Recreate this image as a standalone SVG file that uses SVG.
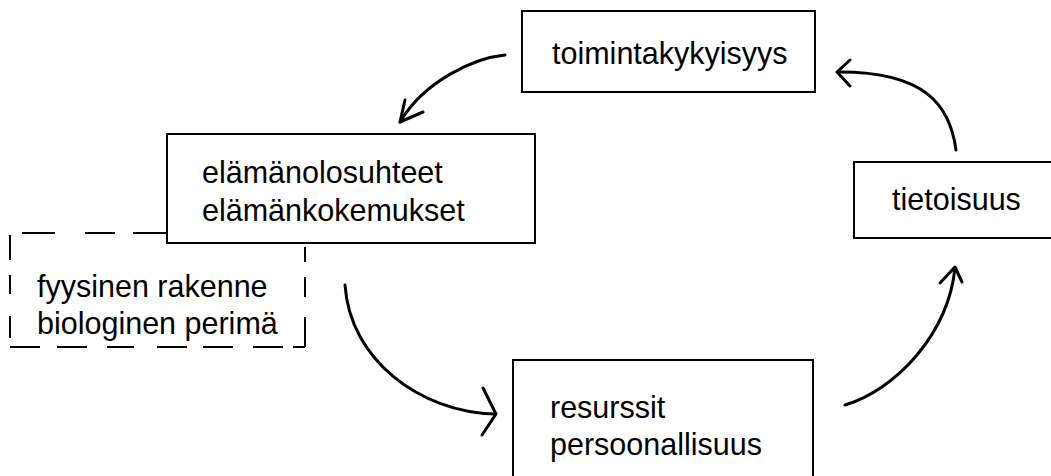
<svg xmlns="http://www.w3.org/2000/svg" width="1051" height="476" viewBox="0 0 1051 476">
<style>
.box{fill:none;stroke:#000;stroke-width:2}
.dash{fill:none;stroke:#000;stroke-width:2}
.lbl{font-family:"Liberation Sans",Arial,sans-serif;font-size:30.5px;fill:#000}
.arr{fill:none;stroke:#000;stroke-width:3;stroke-linecap:round;stroke-linejoin:round}
</style>
<rect width="1051" height="476" fill="#fff"/>
<g id="toimintakykyisyys">
<rect class="box" x="522" y="11" width="293" height="81"/>
<text class="lbl" x="552" y="64">toimintakykyisyys</text>
</g>
<g id="elamanolosuhteet">
<rect class="box" x="167" y="134" width="368" height="109"/>
<text class="lbl" x="202" y="183">elämänolosuhteet</text>
<text class="lbl" x="202" y="221">elämänkokemukset</text>
</g>
<g id="fyysinen">
<path class="dash" d="M22 233 H55 M85 233 H115 M133 233 H167"/>
<path class="dash" d="M10 235 V260 M10 275 V294 M10 316 V338"/>
<path class="dash" d="M10 347 H40 M57 347 H87 M107 347 H134 M157 347 H187 M203 347 H233 M253 347 H283 M293 347 H305"/>
<path class="dash" d="M305 247 V262 M305 277 V297 M305 317 V347"/>
<text class="lbl" x="37" y="297">fyysinen rakenne</text>
<text class="lbl" x="37" y="334">biologinen perimä</text>
</g>
<g id="resurssit">
<path class="box" d="M513 476 V360 H813 V476"/>
<text class="lbl" x="550" y="418">resurssit</text>
<text class="lbl" x="550" y="455">persoonallisuus</text>
</g>
<g id="tietoisuus">
<path class="box" d="M1051 162 H854 V238 H1051"/>
<text class="lbl" x="892" y="210">tietoisuus</text>
</g>
<g id="connectors">
<path class="arr" d="M505 55 C475 58 425 80 400 122"/>
<path class="arr" d="M405 100 L400 122 L423 112"/>
<path class="arr" d="M345 285 C350 360 420 412 495 414"/>
<path class="arr" d="M483 388 L496 414 L482 435"/>
<path class="arr" d="M845 405 C895 390 948 335 955 268"/>
<path class="arr" d="M940 283 L955 267 L962 282"/>
<path class="arr" d="M956 150 C950 105 925 72 840 72"/>
<path class="arr" d="M850 60 L837 72 L850 86"/>
</g>
</svg>
